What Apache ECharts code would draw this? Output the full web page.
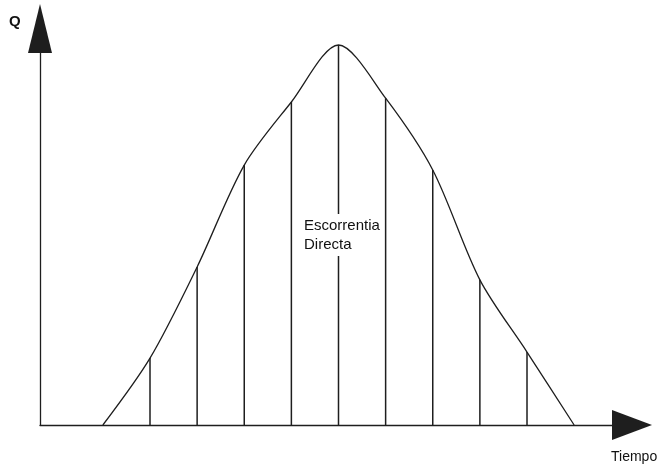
<!DOCTYPE html>
<html>
<head>
<meta charset="utf-8">
<script src="https://cdn.jsdelivr.net/npm/echarts@6/dist/echarts.min.js"></script>
<style>
    html, body { margin: 0; padding: 0; background: #fff; }
    #chart { width: 660px; height: 470px; }
</style>
</head>
<body>
<div id="chart"></div>
<script>
(function() {
    'use strict';

    // hidrograma de escorrentia directa (unidades relativas)
    var tiempo = [0, 1, 2, 3, 4, 5, 6, 7, 8, 9, 10];
    var caudal = [0, 17.6, 41.6, 68.4, 85, 100, 86, 67.1, 38.2, 19.2, 0];
    var etiquetaCentro = ['Escorrentia', 'Directa'];

    var curva = [];
    var ordenadas = [];
    for (var i = 0; i < tiempo.length; i++) {
        curva.push([tiempo[i], caudal[i]]);
        // lineas verticales solo en los puntos interiores
        if (caudal[i] > 0) {
            ordenadas.push([tiempo[i], caudal[i]]);
        }
    }

    var ink = '#1e1e1e';
    var myChart = echarts.init(document.getElementById('chart'));
    var option = {
        backgroundColor: '#fff',
        animation: false,
        grid: {
            left: 40,
            right: 28,
            top: 28.5,
            bottom: 45
        },
        xAxis: {
            type: 'value',
            min: -1.3342,
            max: 11.228,
            axisLine: {
                show: true,
                onZero: false,
                symbol: ['none', 'triangle'],
                symbolSize: [30, 40],
                lineStyle: { color: ink, width: 1.3 }
            },
            axisTick: { show: false },
            axisLabel: { show: false },
            splitLine: { show: false }
        },
        yAxis: {
            type: 'value',
            min: 0,
            max: 104.34,
            axisLine: {
                show: true,
                onZero: false,
                symbol: ['none', 'triangle'],
                symbolSize: [24, 49],
                lineStyle: { color: ink, width: 1.3 }
            },
            axisTick: { show: false },
            axisLabel: { show: false },
            splitLine: { show: false }
        },
        series: [{
            name: 'ordenadas',
            type: 'bar',
            data: ordenadas,
            barWidth: 1.5,
            itemStyle: { color: ink },
            silent: true,
            z: 2
        }, {
            name: 'hidrograma',
            type: 'line',
            data: curva,
            smooth: 0.3,
            symbol: 'none',
            lineStyle: { color: ink, width: 1.3 },
            silent: true,
            z: 3
        }],
        graphic: [{
            type: 'text',
            left: 303,
            top: 214,
            z: 10,
            style: {
                text: etiquetaCentro.join('\n'),
                font: '15px "Liberation Sans", Arial, sans-serif',
                lineHeight: 19,
                fill: '#111',
                backgroundColor: '#fff',
                padding: [2, 1]
            }
        }, {
            type: 'text',
            left: 9,
            top: 14,
            style: {
                text: 'Q',
                font: 'bold 15px "Liberation Sans", Arial, sans-serif',
                fill: '#111'
            }
        }, {
            type: 'text',
            left: 611,
            top: 450,
            style: {
                text: 'Tiempo',
                font: '14px "Liberation Sans", Arial, sans-serif',
                fill: '#111'
            }
        }]
    };
    myChart.setOption(option);
})();
</script>
</body>
</html>
